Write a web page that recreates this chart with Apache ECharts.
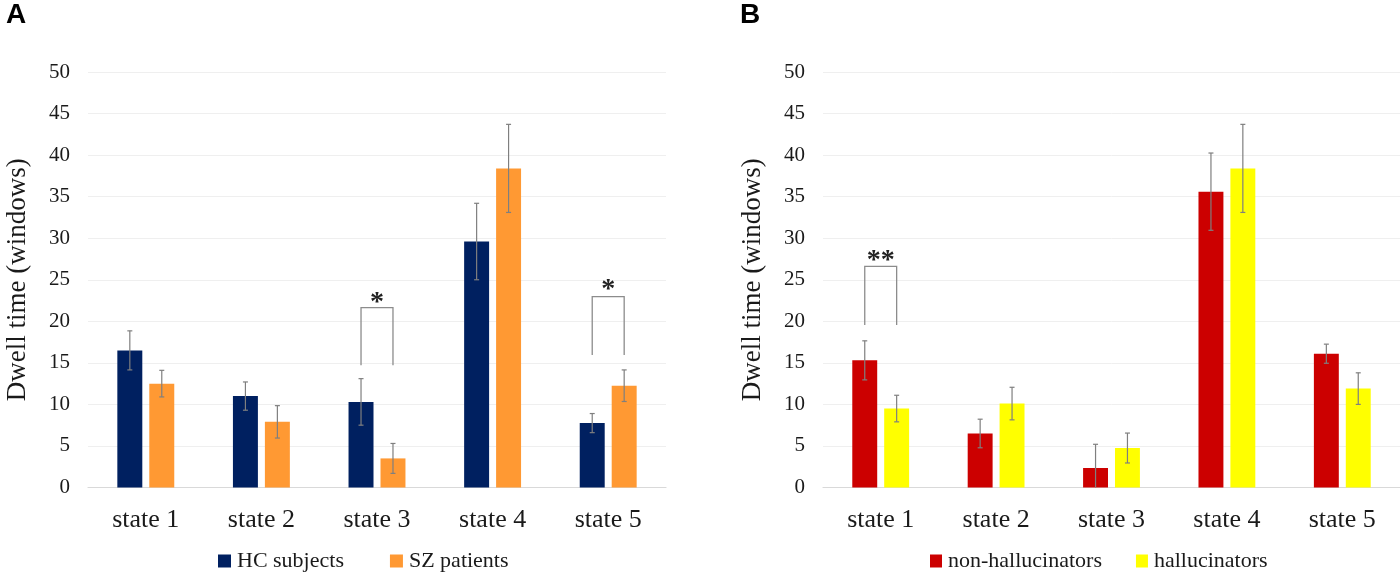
<!DOCTYPE html>
<html lang="en">
<head>
    <meta charset="UTF-8">
    <title>Dwell time</title>
    <script src="https://cdn.jsdelivr.net/npm/echarts@6/dist/echarts.min.js"></script>
    <style>
        html, body { margin: 0; padding: 0; background: #fff; }
        #chart { width: 1400px; height: 573px; }
    </style>
</head>
<body>
<div id="chart"></div>
<script>
    // categories and tick labels
    var states = ['state 1', 'state 2', 'state 3', 'state 4', 'state 5'];
    var yTicks = [0, 5, 10, 15, 20, 25, 30, 35, 40, 45, 50];

    // panel A
    var hcMean = [16.5, 11.0, 10.3, 29.6, 7.75];
    var hcErr = [2.35, 1.7, 2.8, 4.6, 1.15];
    var szMean = [12.5, 7.9, 3.5, 38.4, 12.25];
    var szErr = [1.6, 1.95, 1.8, 5.3, 1.9];

    // panel B
    var nonHalMean = [15.3, 6.5, 2.35, 35.6, 16.1];
    var nonHalErr = [2.35, 1.72, 2.85, 4.65, 1.15];
    var halMean = [9.5, 10.1, 4.75, 38.4, 11.9];
    var halErr = [1.6, 1.96, 1.8, 5.3, 1.9];

    // significance brackets: [category index, bracket top, leg end, mark position]
    var bracketsA = [[2, 21.65, 14.7, 23.0], [4, 22.98, 15.94, 24.46]];
    var bracketMarksA = ['*', '*'];
    var bracketsB = [[0, 26.6, 19.56, 28.0]];
    var bracketMarksB = ['**'];

    var serif = '"Liberation Serif", "Times New Roman", serif';
    var OFFSET = 0.1382; // half distance between the two bar centres, as part of a band

    function withErr(means, errs) {
        var out = [];
        for (var i = 0; i < means.length; i++) {
            out.push([i, means[i], errs[i]]);
        }
        return out;
    }

    function errorBars(sign) {
        return function (params, api) {
            var band = api.size([1, 0])[0];
            var c = api.coord([api.value(0), api.value(1)]);
            var x = c[0] + sign * band * OFFSET;
            var hi = api.coord([api.value(0), api.value(1) + api.value(2)])[1];
            var lowVal = api.value(1) - api.value(2);
            var lo = api.coord([api.value(0), Math.max(0, lowVal)])[1];
            var st = { stroke: '#7f7f7f', lineWidth: 1.2 };
            var kids = [
                { type: 'line', shape: { x1: x, y1: hi, x2: x, y2: lo }, style: st },
                { type: 'line', shape: { x1: x - 2.5, y1: hi, x2: x + 2.5, y2: hi }, style: st }
            ];
            if (lowVal > 0) {
                kids.push({ type: 'line', shape: { x1: x - 2.5, y1: lo, x2: x + 2.5, y2: lo }, style: st });
            }
            return { type: 'group', children: kids };
        };
    }

    function bracketRenderer(marks) {
        return function (params, api) {
            var band = api.size([1, 0])[0];
            var c = api.coord([api.value(0), api.value(1)]);
            var x1 = c[0] - band * OFFSET;
            var x2 = c[0] + band * OFFSET;
            var top = c[1];
            var leg = api.coord([api.value(0), api.value(2)])[1];
            var markY = api.coord([api.value(0), api.value(3)])[1];
            return {
                type: 'group',
                children: [
                    {
                        type: 'polyline',
                        shape: { points: [[x1, leg], [x1, top], [x2, top], [x2, leg]] },
                        style: { stroke: '#8c8c8c', lineWidth: 1.3, fill: null }
                    },
                    {
                        // the asterisk sits high in its em box, so push it down a little
                        type: 'text',
                        style: {
                            text: marks[params.dataIndex], x: c[0], y: markY + 6,
                            align: 'center', verticalAlign: 'middle',
                            font: 'bold 28px ' + serif, fill: '#222'
                        }
                    }
                ]
            };
        };
    }

    function xAxisFor(idx) {
        return {
            type: 'category', gridIndex: idx, data: states,
            axisTick: { show: false },
            axisLine: { lineStyle: { color: '#d9d9d9', width: 1.2 } },
            axisLabel: { color: '#1a1a1a', fontFamily: serif, fontSize: 26, margin: 20 }
        };
    }

    function yAxisFor(idx) {
        return {
            type: 'value', gridIndex: idx, min: yTicks[0], max: yTicks[yTicks.length - 1],
            interval: yTicks[1] - yTicks[0],
            name: 'Dwell time (windows)', nameLocation: 'middle', nameGap: 57,
            nameTextStyle: { color: '#1a1a1a', fontFamily: serif, fontSize: 27 },
            axisLine: { show: false }, axisTick: { show: false },
            axisLabel: { color: '#1a1a1a', fontFamily: serif, fontSize: 21, margin: 18 },
            splitLine: { lineStyle: { color: '#efefef', width: 1 } }
        };
    }

    var myChart = echarts.init(document.getElementById('chart'));

    var option = {
        backgroundColor: '#fff',
        animation: false,
        grid: [
            { left: 88, right: 734, top: 72, bottom: 85.5 },
            { left: 823, right: -2, top: 72, bottom: 85.5 }
        ],
        xAxis: [xAxisFor(0), xAxisFor(1)],
        yAxis: [yAxisFor(0), yAxisFor(1)],
        legend: [
            {
                data: ['HC subjects', 'SZ patients'],
                left: 216, top: 548, itemWidth: 13, itemHeight: 13, itemGap: 46,
                icon: 'rect', padding: 2,
                textStyle: { color: '#1a1a1a', fontFamily: serif, fontSize: 22, padding: [0, 0, 0, 1] }
            },
            {
                data: ['non-hallucinators', 'hallucinators'],
                left: 928, top: 548, itemWidth: 12, itemHeight: 13, itemGap: 34,
                icon: 'rect', padding: 2,
                textStyle: { color: '#1a1a1a', fontFamily: serif, fontSize: 22, padding: [0, 0, 0, 1] }
            }
        ],
        graphic: [
            { type: 'text', left: 6, top: 1, style: { text: 'A', font: 'bold 28px "Liberation Sans", Arial, sans-serif', fill: '#000' } },
            { type: 'text', left: 740, top: 1, style: { text: 'B', font: 'bold 28px "Liberation Sans", Arial, sans-serif', fill: '#000' } }
        ],
        series: [
            {
                name: 'HC subjects', type: 'bar', xAxisIndex: 0, yAxisIndex: 0,
                data: hcMean, barWidth: '21.6%', barGap: '28%',
                itemStyle: { color: '#002060' }
            },
            {
                name: 'SZ patients', type: 'bar', xAxisIndex: 0, yAxisIndex: 0,
                data: szMean, barWidth: '21.6%', barGap: '28%',
                itemStyle: { color: '#ff9933' }
            },
            {
                name: 'non-hallucinators', type: 'bar', xAxisIndex: 1, yAxisIndex: 1,
                data: nonHalMean, barWidth: '21.6%', barGap: '28%',
                itemStyle: { color: '#cc0000' }
            },
            {
                name: 'hallucinators', type: 'bar', xAxisIndex: 1, yAxisIndex: 1,
                data: halMean, barWidth: '21.6%', barGap: '28%',
                itemStyle: { color: '#ffff00' }
            },
            { type: 'custom', xAxisIndex: 0, yAxisIndex: 0, renderItem: errorBars(-1), data: withErr(hcMean, hcErr), z: 5 },
            { type: 'custom', xAxisIndex: 0, yAxisIndex: 0, renderItem: errorBars(1), data: withErr(szMean, szErr), z: 5 },
            { type: 'custom', xAxisIndex: 1, yAxisIndex: 1, renderItem: errorBars(-1), data: withErr(nonHalMean, nonHalErr), z: 5 },
            { type: 'custom', xAxisIndex: 1, yAxisIndex: 1, renderItem: errorBars(1), data: withErr(halMean, halErr), z: 5 },
            { type: 'custom', xAxisIndex: 0, yAxisIndex: 0, renderItem: bracketRenderer(bracketMarksA), data: bracketsA, z: 5 },
            { type: 'custom', xAxisIndex: 1, yAxisIndex: 1, renderItem: bracketRenderer(bracketMarksB), data: bracketsB, z: 5 }
        ]
    };

    myChart.setOption(option);
</script>
</body>
</html>
